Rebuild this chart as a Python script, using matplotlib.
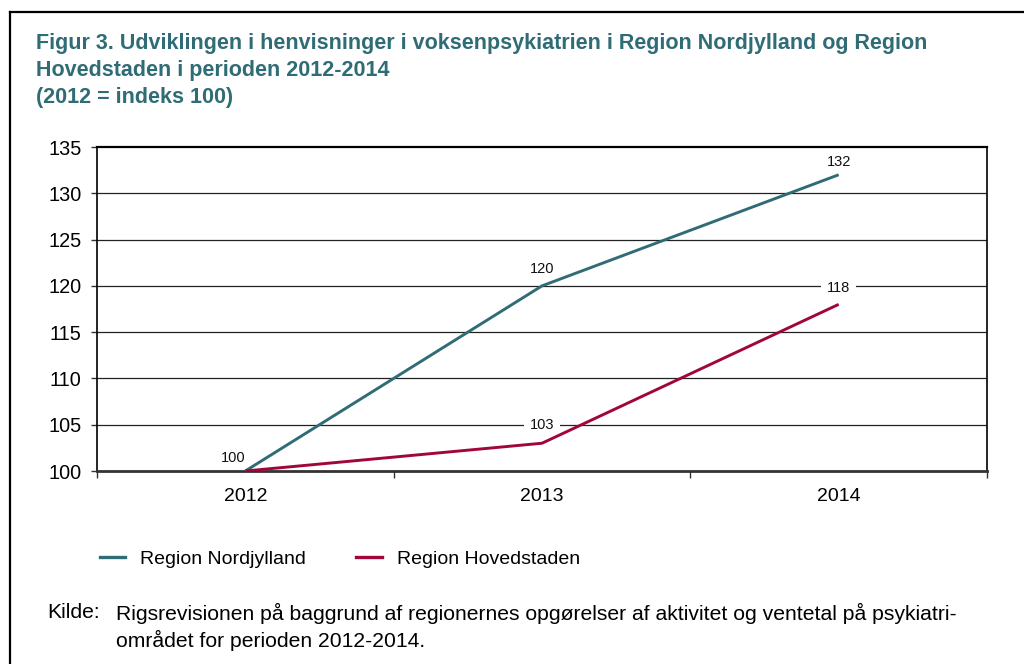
import matplotlib
matplotlib.use("Agg")
import matplotlib.pyplot as plt
from matplotlib.lines import Line2D

plt.rcParams['font.family'] = ['Liberation Sans', 'DejaVu Sans']

years = ["2012", "2013", "2014"]
nordjylland = [100, 120, 132]
hovedstaden = [100, 103, 118]
series_names = ["Region Nordjylland", "Region Hovedstaden"]
yticks = [100, 105, 110, 115, 120, 125, 130, 135]
title_lines = ["Figur 3. Udviklingen i henvisninger i voksenpsykiatrien i Region Nordjylland og Region",
               "Hovedstaden i perioden 2012-2014",
               "(2012 = indeks 100)"]

teal = "#2F6C75"
red = "#A0063A"
title_color = "#2F6C75"

W, H = 1024, 664
fig = plt.figure(figsize=(W / 100, H / 100), dpi=100)

def fx(px):
    return px / W

def fy(py):
    return 1 - py / H

# outer frame
fig.add_artist(Line2D([fx(10), fx(10)], [fy(12), fy(664)], color="black", lw=1.6, transform=fig.transFigure))
fig.add_artist(Line2D([fx(10), fx(1024)], [fy(12), fy(12)], color="black", lw=1.6, transform=fig.transFigure))

# title
for line, ypx in zip(title_lines, [44, 70.5, 97]):
    fig.text(fx(36), fy(ypx), line, color=title_color, fontsize=15.5, fontweight="bold",
             va="center", ha="left")

ax = fig.add_axes([fx(97), fy(471), fx(987) - fx(97), fy(147) - fy(471)])
x = list(range(len(years)))
ax.plot(x, nordjylland, color=teal, lw=2.1, solid_capstyle="butt", zorder=3)
ax.plot(x, hovedstaden, color=red, lw=2.1, solid_capstyle="butt", zorder=3)

ax.set_xlim(-0.5, 2.5)
ax.set_ylim(100, 135)
ax.set_yticks(yticks)
ax.set_yticklabels([str(v) for v in yticks], fontsize=14.3)
ax.set_xticks([i for i in x])
ax.set_xticklabels(years, fontsize=14)
ax.set_xticks([-0.5, 0.5, 1.5, 2.5], minor=True)
ax.tick_params(axis="x", which="major", length=0, pad=12)
ax.tick_params(axis="x", which="minor", length=5, width=1, color="#333333")
ax.tick_params(axis="y", length=4, width=1, color="#333333", pad=7)
for yv in yticks[1:-1]:
    ax.axhline(yv, color="#222222", lw=0.9, zorder=1)
for s in ["top", "left", "right"]:
    ax.spines[s].set_color("black")
    ax.spines[s].set_linewidth(1.2)
ax.spines["top"].set_linewidth(1.6)
ax.spines["bottom"].set_color("#333333")
ax.spines["bottom"].set_linewidth(2.0)

bbox = dict(boxstyle="square,pad=0.4", fc="white", ec="none")
def label(i, vals, dx, dy, ha="center"):
    ax.annotate(str(vals[i]), (x[i], vals[i]), xytext=(dx, dy), textcoords="offset points",
                ha=ha, va="bottom", fontsize=10.5, color="#111111", bbox=bbox, zorder=2)

label(0, nordjylland, -9, 4)
label(1, nordjylland, 0, 7)
label(2, nordjylland, 0, 4)
label(1, hovedstaden, 0, 8)
label(2, hovedstaden, 0, 7)

handles = [Line2D([], [], color=teal, lw=2.4), Line2D([], [], color=red, lw=2.4)]
fig.legend(handles, series_names, loc="center left", bbox_to_anchor=(fx(82), fy(559)),
           ncol=2, frameon=False, fontsize=14, handlelength=1.3, handletextpad=0.78,
           columnspacing=2.6)

fig.text(fx(47), fy(613), "Kilde:", fontsize=15.2, va="center", ha="left")
fig.text(fx(116), fy(613), "Rigsrevisionen på baggrund af regionernes opgørelser af aktivitet og ventetal på psykiatri-",
         fontsize=15.2, va="center", ha="left")
fig.text(fx(116), fy(640), "området for perioden 2012-2014.", fontsize=15.2, va="center", ha="left")

fig.savefig("out.png", dpi=100)
